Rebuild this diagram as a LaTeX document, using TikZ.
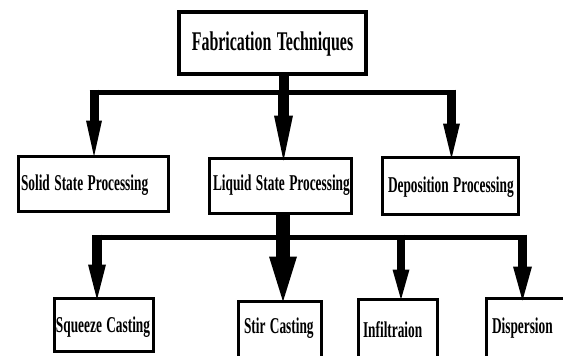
\documentclass[tikz,border=0pt]{standalone}
\usepackage{fontspec}
\usepackage{graphicx}
\setmainfont{Liberation Serif}
\newcommand{\cnd}[1]{\scalebox{0.59}[1]{#1}}
\usetikzlibrary{arrows.meta}
\tikzset{
  box/.style={draw, line width=3pt, outer sep=0pt, inner sep=0pt, anchor=north west,
    align=left, font=\bfseries\fontsize{22.6}{26}\selectfont},
  topbox/.style={box, line width=4pt, align=center,
    font=\bfseries\fontsize{27}{30}\selectfont},
  bar/.style={line width=5pt},
  stem/.style={line width=#1},
  arr/.style n args={3}{line width=#1, -{Triangle[width=#2, length=#3, line width=0pt]}}
}
\begin{document}
\begin{tikzpicture}[x=1pt,y=-1pt]
\path[clip] (0,0) rectangle (563,356);
\fill[white] (0,0) rectangle (563,356);

% boxes
\node[topbox, minimum width=187pt, text width=187pt, text height=38pt, text depth=24pt] (top) at (179,12) {\cnd{Fabrication Techniques}};

\node[box, minimum width=150pt, text width=145pt, text height=33.5pt, text depth=21.5pt] (solid) at (18.5,156.5) {\cnd{Solid State Processing}};
\node[box, minimum width=142pt, text width=135pt, text height=31.5pt, text depth=23.5pt] (liquid) at (209.5,158.5) {\cnd{Liquid State Processing}};
\node[box, minimum width=136pt, text width=125pt, text height=34.5pt, text depth=22.5pt] (dep) at (382.5,157.5) {\cnd{Deposition Processing}};

\node[box, minimum width=99pt, text width=96pt, text height=33.5pt, text depth=19.5pt] (squeeze) at (54.5,298.5) {\cnd{Squeeze Casting}};
\node[box, minimum width=83pt, text width=72pt, text height=31.5pt, text depth=37pt] (stir) at (238.5,301.5) {\cnd{Stir Casting}};
\node[box, minimum width=79pt, text width=70pt, text height=37.5pt, text depth=33pt] (infil) at (358.5,299.5) {\cnd{Infiltraion}};
\node[box, minimum width=120pt, text width=109pt, text height=34.5pt, text depth=37pt] (disp) at (486.5,298.5) {\cnd{Dispersion}};

% upper connectors
\coordinate (a1) at (94,92);
\coordinate (a2) at (283.5,92);
\coordinate (a3) at (451.5,92);
\draw[stem=10pt] (a2 |- top.south) -- (a2);
\draw[bar] ([xshift=-4.5pt]a1) -- ([xshift=4.5pt]a3);
\draw[arr={9pt}{16pt}{36pt}] ([yshift=2.5pt]a1) -- (a1 |- solid.north);
\draw[arr={11pt}{19pt}{45pt}] ([yshift=2.5pt]a2) -- ([yshift=-2pt]a2 |- liquid.north);
\draw[arr={9pt}{17pt}{35pt}] ([yshift=2.5pt]a3) -- ([yshift=-1pt]a3 |- dep.north);

% lower connectors
\coordinate (b1) at (97,237);
\coordinate (b2) at (283,237);
\coordinate (b3) at (401,237);
\coordinate (b4) at (522.5,237);
\draw[stem=14pt] (b2 |- liquid.south) -- (b2);
\draw[bar] ([xshift=-5pt]b1) -- ([xshift=4.5pt]b4);
\draw[arr={10pt}{18pt}{35pt}] ([yshift=2.5pt]b1) -- ([yshift=-1pt]b1 |- squeeze.north);
\draw[arr={14pt}{28pt}{45pt}] (b2) -- (b2 |- stir.north);
\draw[arr={8pt}{17pt}{30pt}] ([yshift=2.5pt]b3) -- (b3 |- infil.north);
\draw[arr={9pt}{19pt}{34pt}] ([yshift=2.5pt]b4) -- ([yshift=-2pt]b4 |- disp.north);
\end{tikzpicture}
\end{document}
